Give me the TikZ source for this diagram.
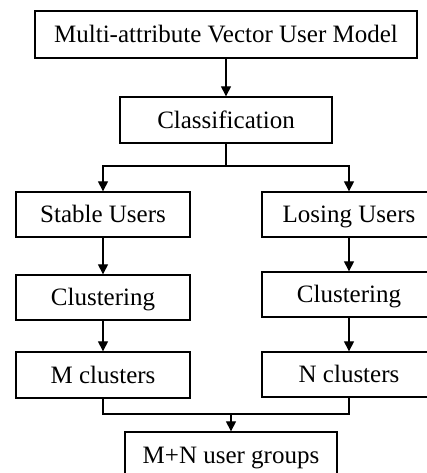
\documentclass[tikz,border=0pt]{standalone}
\usepackage{fontspec}
\setmainfont{Liberation Serif}
\usetikzlibrary{arrows.meta}
\begin{document}
\begin{tikzpicture}[x=1pt,y=-1pt,
  box/.style={draw=black,line width=1.3pt,inner sep=0pt,text height=16.8pt,text depth=0pt,font=\fontsize{25}{28}\selectfont},
  conn/.style={line width=1.1pt,-{Triangle[length=10pt,width=10pt]}},
  seg/.style={line width=1.1pt}]
\useasboundingbox (0,0) rectangle (427,473);
\clip (0,0) rectangle (427,473);
\node[box,minimum width=382pt,minimum height=47pt] (top) at (226,34.5) {Multi-attribute Vector User Model};
\node[box,minimum width=212pt,minimum height=46pt] (cls) at (226,120) {Classification};
\node[box,minimum width=174pt,minimum height=45pt] (stable) at (103,214.5) {Stable Users};
\node[box,minimum width=174pt,minimum height=45pt] (losing) at (349,214.5) {Losing Users};
\node[box,minimum width=174pt,minimum height=45pt] (clL) at (103,297.5) {Clustering};
\node[box,minimum width=174pt,minimum height=45pt] (clR) at (349,294.5) {Clustering};
\node[box,minimum width=174pt,minimum height=46pt] (mcl) at (103,375) {M clusters};
\node[box,minimum width=174pt,minimum height=45pt] (ncl) at (349,374.5) {N clusters};
\node[box,minimum width=212pt,minimum height=46pt] (mn) at (231,455) {M+N user groups};
\coordinate (split) at (226,166);
\coordinate (merge) at (231,414);
\draw[conn] (top.south) -- (cls.north);
\draw[seg] (cls.south) -- (split);
\draw[conn] (split) -| (stable.north);
\draw[conn] (split) -| (losing.north);
\draw[conn] (stable) -- (clL);
\draw[conn] (losing) -- (clR);
\draw[conn] (clL) -- (mcl);
\draw[conn] (clR) -- (ncl);
\draw[seg] (mcl.south) |- (merge);
\draw[seg] (ncl.south) |- (merge);
\draw[conn] (merge) -- (mn.north);
\end{tikzpicture}
\end{document}
